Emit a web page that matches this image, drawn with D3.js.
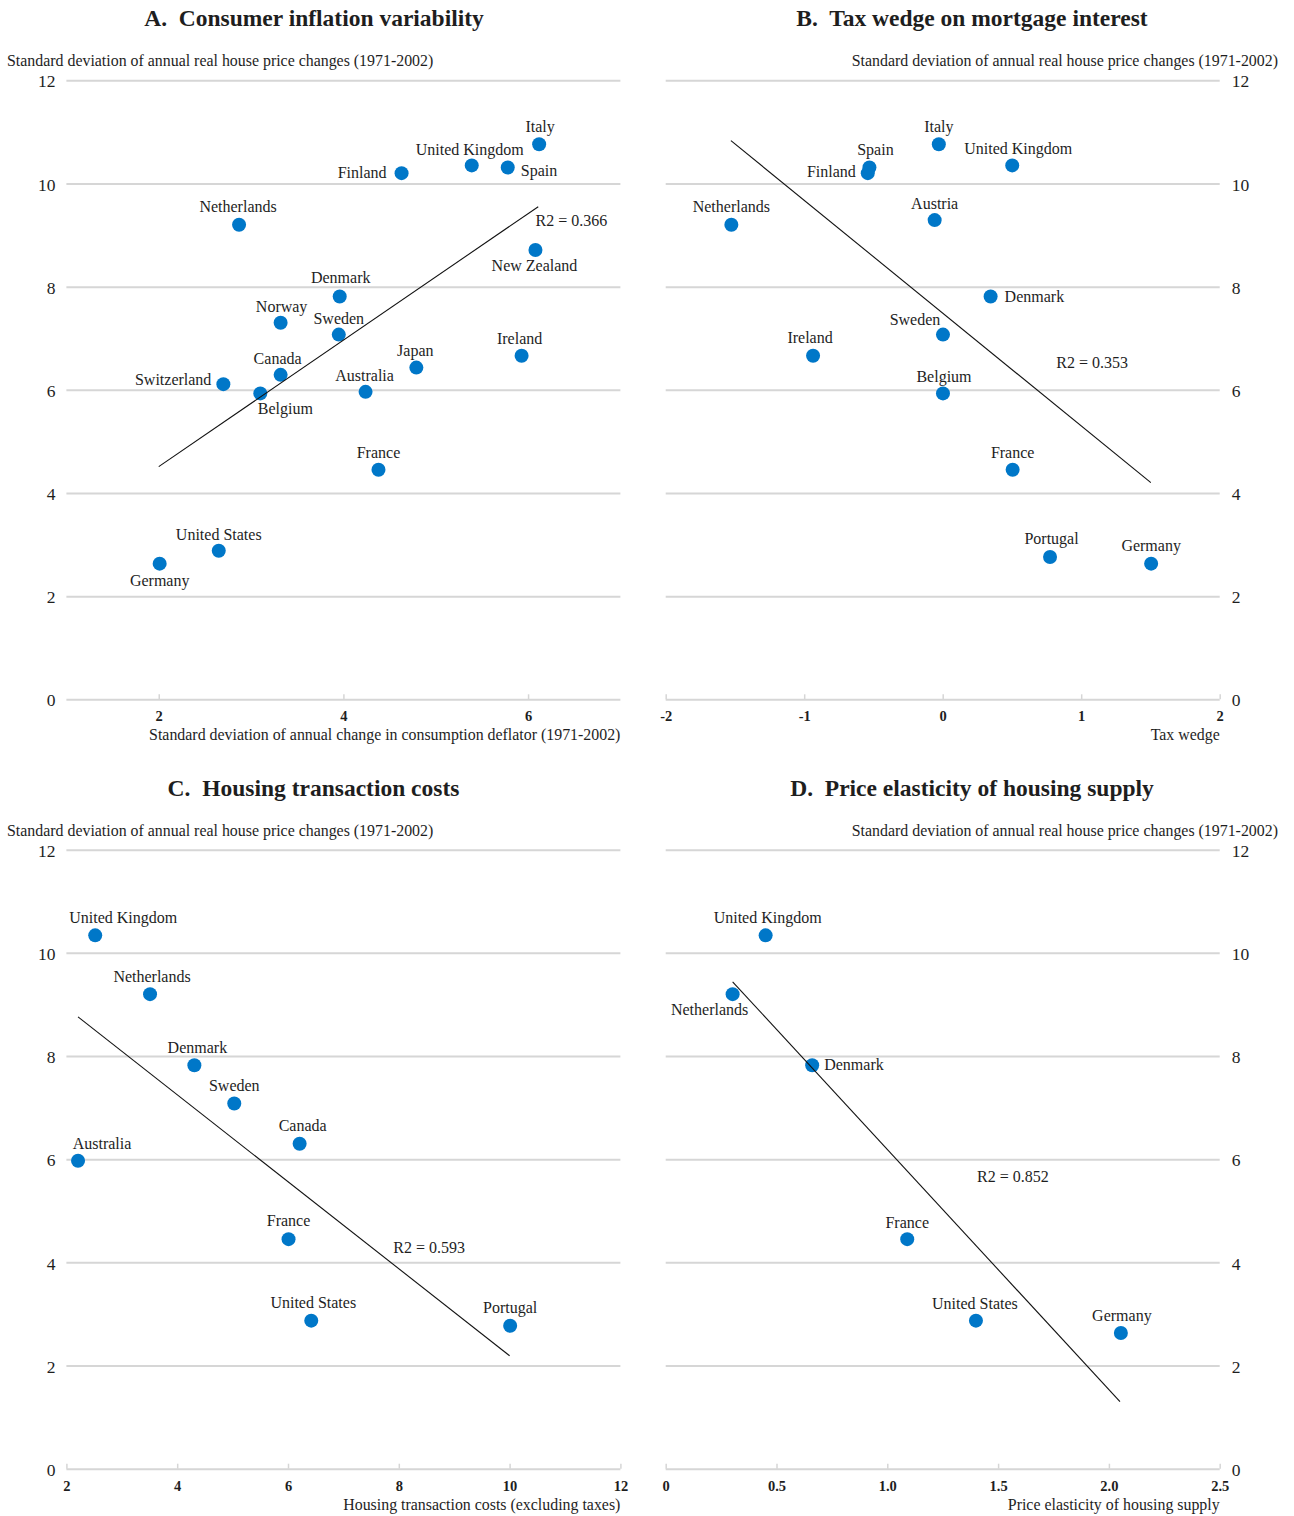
<!DOCTYPE html>
<html><head><meta charset="utf-8">
<script src="https://cdn.jsdelivr.net/npm/d3@7"></script>
<style>
body{margin:0;background:#fff}
svg text{font-family:"Liberation Serif","Times New Roman",serif;fill:#1e1e1e}
</style>
</head><body>
<svg id="chart" width="1294" height="1516"></svg>
<script>
// ---------- DATA ----------
const yTicks = [0, 2, 4, 6, 8, 10, 12];
const yTitle = "Standard deviation of annual real house price changes (1971-2002)";

// Panel A: Consumer inflation variability
const aTitle = "A.\u00a0 Consumer inflation variability";
const aXTitle = "Standard deviation of annual change in consumption deflator (1971-2002)";
const aCountries = ["Italy","United Kingdom","Spain","Finland","Netherlands","New Zealand","Denmark","Norway","Sweden","Ireland","Japan","Canada","Switzerland","Belgium","Australia","France","United States","Germany"];
const aX = [6.12, 5.39, 5.78, 4.63, 2.87, 6.08, 3.96, 3.32, 3.95, 5.93, 4.79, 3.32, 2.70, 3.10, 4.24, 4.38, 2.65, 2.01];
const aY = [10.76, 10.35, 10.31, 10.20, 9.20, 8.71, 7.81, 7.30, 7.07, 6.66, 6.43, 6.29, 6.11, 5.93, 5.96, 4.45, 2.88, 2.63];
const aTrendX = [2.0, 6.11];
const aTrendY = [4.51, 9.55];
const aR2 = "R2 = 0.366";
const aXTicks = [2, 4, 6];
const aXTickLabels = ["2", "4", "6"];

// Panel B: Tax wedge on mortgage interest
const bTitle = "B.\u00a0 Tax wedge on mortgage interest";
const bXTitle = "Tax wedge";
const bCountries = ["Italy","Spain","Finland","United Kingdom","Austria","Netherlands","Denmark","Sweden","Ireland","Belgium","France","Portugal","Germany"];
const bX = [-0.028, -0.529, -0.541, 0.502, -0.058, -1.526, 0.346, 0.002, -0.936, 0.002, 0.505, 0.775, 1.505];
const bY = [10.76, 10.31, 10.20, 10.35, 9.29, 9.20, 7.81, 7.07, 6.66, 5.93, 4.45, 2.76, 2.63];
const bTrendX = [-1.529, 1.503];
const bTrendY = [10.83, 4.20];
const bR2 = "R2 = 0.353";
const bXTicks = [-2, -1, 0, 1, 2];
const bXTickLabels = ["-2", "-1", "0", "1", "2"];

// Panel C: Housing transaction costs
const cTitle = "C.\u00a0 Housing transaction costs";
const cXTitle = "Housing transaction costs (excluding taxes)";
const cCountries = ["United Kingdom","Netherlands","Denmark","Sweden","Canada","Australia","France","United States","Portugal"];
const cX = [2.52, 3.51, 4.31, 5.03, 6.21, 2.21, 6.01, 6.42, 10.01];
const cY = [10.34, 9.20, 7.82, 7.08, 6.30, 5.97, 4.45, 2.87, 2.77];
const cTrendX = [2.21, 10.0];
const cTrendY = [8.76, 2.19];
const cR2 = "R2 = 0.593";
const cXTicks = [2, 4, 6, 8, 10, 12];
const cXTickLabels = ["2", "4", "6", "8", "10", "12"];

// Panel D: Price elasticity of housing supply
const dTitle = "D.\u00a0 Price elasticity of housing supply";
const dXTitle = "Price elasticity of housing supply";
const dCountries = ["United Kingdom","Netherlands","Denmark","France","United States","Germany"];
const dX = [0.451, 0.302, 0.661, 1.09, 1.40, 2.054];
const dY = [10.34, 9.20, 7.82, 4.45, 2.87, 2.63];
const dTrendX = [0.302, 2.05];
const dTrendY = [9.44, 1.30];
const dR2 = "R2 = 0.852";
const dXTicks = [0, 0.5, 1.0, 1.5, 2.0, 2.5];
const dXTickLabels = ["0", "0.5", "1.0", "1.5", "2.0", "2.5"];

// ---------- LAYOUT / STYLE ----------
// label placement: [dx, dy(baseline), anchor] in px relative to the dot
const placeA = {"Italy":[1,-12,"middle"],"United Kingdom":[-2,-10,"middle"],"Spain":[13,9,"start"],"Finland":[-15,4.5,"end"],
  "Netherlands":[-1,-13,"middle"],"New Zealand":[-1,21,"middle"],"Denmark":[1,-13,"middle"],"Norway":[1,-11,"middle"],
  "Sweden":[0,-10.5,"middle"],"Ireland":[-2,-12,"middle"],"Japan":[-1,-11.5,"middle"],"Canada":[-3,-11,"middle"],
  "Switzerland":[-12,1,"end"],"Belgium":[25,21,"middle"],"Australia":[-1,-10.5,"middle"],"France":[0,-12,"middle"],
  "United States":[0,-11,"middle"],"Germany":[0,22,"middle"]};
const placeB = {"Italy":[0,-12,"middle"],"Spain":[6,-12.5,"middle"],"Finland":[-12,4,"end"],"United Kingdom":[6,-11.5,"middle"],
  "Austria":[0,-11,"middle"],"Netherlands":[0,-12.5,"middle"],"Denmark":[14,5.5,"start"],"Sweden":[-28,-9.5,"middle"],
  "Ireland":[-3,-12.5,"middle"],"Belgium":[1,-11.5,"middle"],"France":[0,-11.5,"middle"],"Portugal":[1.5,-12.5,"middle"],
  "Germany":[0,-13,"middle"]};
const placeC = {"United Kingdom":[28,-12,"middle"],"Netherlands":[2,-12.3,"middle"],"Denmark":[3,-12.5,"middle"],
  "Sweden":[0,-12.5,"middle"],"Canada":[3,-12.3,"middle"],"Australia":[24,-11.4,"middle"],"France":[0,-13.5,"middle"],
  "United States":[2,-12.3,"middle"],"Portugal":[0,-13,"middle"]};
const placeD = {"United Kingdom":[2,-12,"middle"],"Netherlands":[-23,21,"middle"],"Denmark":[12,4.5,"start"],
  "France":[0,-11.6,"middle"],"United States":[-1,-11.7,"middle"],"Germany":[1,-12,"middle"]};
// r2 annotation anchor (data units, text start / baseline)
const r2Pos = {A:[6.08, 9.18], B:[0.82, 6.43], C:[7.90, 4.19], D:[1.405, 5.56]};

const DOT = "#0077c8";
const GRID = "#d6d6d6";
const svg = d3.select("#chart");

function panel(o) {
  const x = d3.scaleLinear().domain(o.xDomain).range([o.left, o.right]);
  const y = d3.scaleLinear().domain([0, 12]).range([o.bottom, o.top]);
  const g = svg.append("g");
  const w = o.right - o.left;

  // title
  g.append("text").attr("x", o.titleX).attr("y", o.top - 54)
    .attr("text-anchor", "middle").attr("font-size", 23.5).attr("font-weight", "bold")
    .text(o.title);
  // y title
  g.append("text").attr("x", o.yAxisRight ? 1278 : 7).attr("y", o.top - 14)
    .attr("text-anchor", o.yAxisRight ? "end" : "start").attr("font-size", 15.9)
    .text(yTitle);

  // y axis gridlines
  const yAxis = (o.yAxisRight ? d3.axisRight(y) : d3.axisLeft(y))
    .tickValues(yTicks).tickSize(-w).tickPadding(o.yAxisRight ? 12 : 11).tickFormat(d3.format("d"));
  const ya = g.append("g").attr("transform", `translate(${o.yAxisRight ? o.right : o.left},0)`).call(yAxis);
  ya.select(".domain").remove();
  ya.selectAll("line").attr("stroke", GRID).attr("stroke-width", 2);
  ya.selectAll("text").attr("font-size", 17.5).attr("dy", "0.38em")
    .attr("font-family", "Liberation Serif, Times New Roman, serif").attr("fill", "#1e1e1e");

  // x axis
  const xAxis = d3.axisBottom(x).tickValues(o.xTicks).tickSize(-5)
    .tickFormat((d, i) => o.xTickLabels[i]);
  const xa = g.append("g").attr("transform", `translate(0,${o.bottom})`).call(xAxis);
  xa.select(".domain").remove();
  xa.selectAll("line").attr("stroke", GRID).attr("stroke-width", 1.5);
  xa.selectAll("text").attr("y", 22).attr("dy", 0).attr("font-size", 14.5).attr("font-weight", "bold")
    .attr("font-family", "Liberation Serif, Times New Roman, serif").attr("fill", "#1e1e1e");

  // x title
  g.append("text").attr("x", o.right).attr("y", o.bottom + 41)
    .attr("text-anchor", "end").attr("font-size", 15.9).text(o.xTitle);

  // points
  const data = o.countries.map((c, i) => ({c, x: o.xs[i], y: o.ys[i]}));
  g.append("g").selectAll("circle").data(data).join("circle")
    .attr("cx", d => x(d.x)).attr("cy", d => y(d.y)).attr("r", 7).attr("fill", DOT);

  // trend line
  g.append("line")
    .attr("x1", x(o.trendX[0])).attr("y1", y(o.trendY[0]))
    .attr("x2", x(o.trendX[1])).attr("y2", y(o.trendY[1]))
    .attr("stroke", "#111").attr("stroke-width", 1.1);

  // labels
  g.append("g").selectAll("text").data(data).join("text")
    .attr("x", d => x(d.x) + o.place[d.c][0]).attr("y", d => y(d.y) + o.place[d.c][1])
    .attr("text-anchor", d => o.place[d.c][2]).attr("font-size", 16).text(d => d.c);

  // R2
  g.append("text").attr("x", x(o.r2Pos[0])).attr("y", y(o.r2Pos[1]))
    .attr("font-size", 16).text(o.r2);
}

panel({title: aTitle, titleX: 314, xTitle: aXTitle, xDomain: [1, 7], left: 66.4, right: 620.4, top: 80.3, bottom: 699.3,
  yAxisRight: false, xTicks: aXTicks, xTickLabels: aXTickLabels, countries: aCountries, xs: aX, ys: aY,
  trendX: aTrendX, trendY: aTrendY, r2: aR2, r2Pos: r2Pos.A, place: placeA});
panel({title: bTitle, titleX: 972, xTitle: bXTitle, xDomain: [-2, 2], left: 665.7, right: 1219.7, top: 80.3, bottom: 699.3,
  yAxisRight: true, xTicks: bXTicks, xTickLabels: bXTickLabels, countries: bCountries, xs: bX, ys: bY,
  trendX: bTrendX, trendY: bTrendY, r2: bR2, r2Pos: r2Pos.B, place: placeB});
panel({title: cTitle, titleX: 313.5, xTitle: cXTitle, xDomain: [2, 12], left: 66.4, right: 620.4, top: 849.7, bottom: 1468.7,
  yAxisRight: false, xTicks: cXTicks, xTickLabels: cXTickLabels, countries: cCountries, xs: cX, ys: cY,
  trendX: cTrendX, trendY: cTrendY, r2: cR2, r2Pos: r2Pos.C, place: placeC});
panel({title: dTitle, titleX: 972, xTitle: dXTitle, xDomain: [0, 2.5], left: 665.7, right: 1219.7, top: 849.7, bottom: 1468.7,
  yAxisRight: true, xTicks: dXTicks, xTickLabels: dXTickLabels, countries: dCountries, xs: dX, ys: dY,
  trendX: dTrendX, trendY: dTrendY, r2: dR2, r2Pos: r2Pos.D, place: placeD});
</script>
</body></html>
